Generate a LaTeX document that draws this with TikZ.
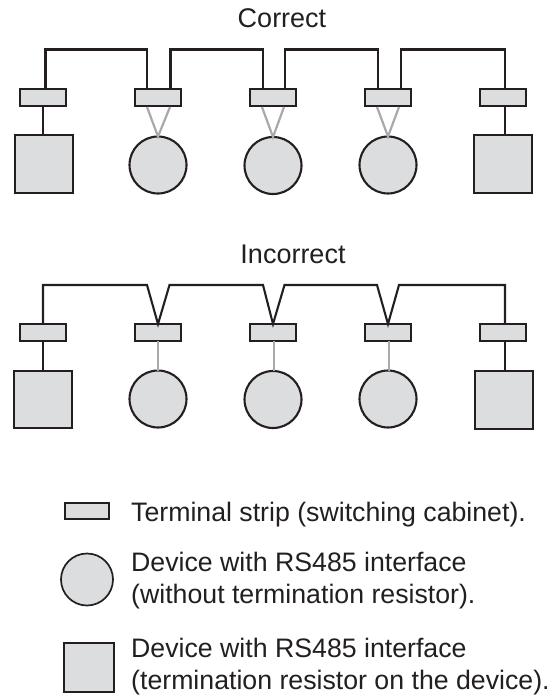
\documentclass[tikz,border=0pt]{standalone}
\usepackage{fontspec}
\setmainfont{Liberation Sans}
\usetikzlibrary{calc}
\definecolor{fillc}{HTML}{DCDDDE}
\definecolor{inkc}{HTML}{231F20}
\definecolor{greyc}{HTML}{A7A9AC}
\tikzset{
 x=1pt,y=-1pt,
 stripbox/.style={draw=inkc,fill=fillc,line width=2.1pt,minimum width=46pt,minimum height=17pt,inner sep=0pt,outer sep=0pt},
 devsq/.style={draw=inkc,fill=fillc,line width=2.1pt,minimum width=57.5pt,minimum height=57.5pt,inner sep=0pt,outer sep=0pt},
 devci/.style={circle,draw=inkc,fill=fillc,line width=2.1pt,minimum size=57pt,inner sep=0pt,outer sep=0pt},
 wire/.style={draw=inkc,line width=2.1pt,line join=miter},
 gwire/.style={draw=greyc,line width=2.2pt},
 lbl/.style={text=inkc,inner sep=0pt,font=\fontsize{26.7}{32}\selectfont,align=left},
 ttl/.style={text=inkc,inner sep=0pt,font=\fontsize{27}{32}\selectfont},
}
\begin{document}
\begin{tikzpicture}
\useasboundingbox (0,0) rectangle (555,699);
\fill[white] (0,0) rectangle (555,699);
% Correct
\node[ttl,anchor=base] (tc) at (282,27) {Correct};
\coordinate (topa) at (0,49.5);
\coordinate (topb) at (0,285);
\node[stripbox] (s1) at (43,97.5) {};
\node[stripbox] (s2) at (158,97.5) {};
\node[stripbox] (s3) at (273,97.5) {};
\node[stripbox] (s4) at (388,97.5) {};
\node[stripbox] (s5) at (503,97.5) {};
\node[devsq] (d1) at (44,164) {};
\node[devci] (d2) at (158,165) {};
\node[devci] (d3) at (273,165.5) {};
\node[devci] (d4) at (388,165) {};
\node[devsq] (d5) at (503,164) {};
\draw[wire] ([xshift=2.5pt]s1.north) -- ([xshift=2.5pt]s1.north |- topa) -- ([xshift=-11pt]s2.north |- topa) -- ([xshift=-11pt]s2.north);
\draw[wire] ([xshift=12.5pt]s2.north) -- ([xshift=12.5pt]s2.north |- topa) -- ([xshift=-10pt]s3.north |- topa) -- ([xshift=-10pt]s3.north);
\draw[wire] ([xshift=12pt]s3.north) -- ([xshift=12pt]s3.north |- topa) -- ([xshift=-10.3pt]s4.north |- topa) -- ([xshift=-10.3pt]s4.north);
\draw[wire] ([xshift=12.7pt]s4.north) -- ([xshift=12.7pt]s4.north |- topa) -- ([xshift=2pt]s5.north |- topa) -- ([xshift=2pt]s5.north);
\draw[wire] (s1.south) -- (s1.south |- d1.north);
\draw[wire] ([xshift=2pt]s5.south) -- ([xshift=2pt]s5.south |- d5.north);
\draw[gwire] ([xshift=-11pt,yshift=-1pt]s2.south) -- (d2.north) -- ([xshift=12pt,yshift=-1pt]s2.south);
\draw[gwire] ([xshift=-11pt,yshift=-1pt]s3.south) -- (d3.north) -- ([xshift=11pt,yshift=-1pt]s3.south);
\draw[gwire] ([xshift=-11pt,yshift=-1pt]s4.south) -- (d4.north) -- ([xshift=11pt,yshift=-1pt]s4.south);
% Incorrect
\node[ttl,anchor=base] (ti) at (293,263) {Incorrect};
\node[stripbox] (t1) at (43,332.5) {};
\node[stripbox] (t2) at (158,332.5) {};
\node[stripbox] (t3) at (273,332.5) {};
\node[stripbox] (t4) at (388,332.5) {};
\node[stripbox] (t5) at (503,332.5) {};
\node[devsq] (e1) at (43,399.5) {};
\node[devci] (e2) at (158,399) {};
\node[devci] (e3) at (273,399.5) {};
\node[devci] (e4) at (388,399) {};
\node[devsq] (e5) at (504,400) {};
\draw[wire] (t1.north) -- (t1.north |- topb) -- ([xshift=-11pt]t2.north |- topb) -- (t2.north) -- ([xshift=11.5pt]t2.north |- topb)
 -- ([xshift=-10pt]t3.north |- topb) -- (t3.north) -- ([xshift=11.5pt]t3.north |- topb)
 -- ([xshift=-11pt]t4.north |- topb) -- (t4.north) -- ([xshift=11pt]t4.north |- topb)
 -- ([xshift=2pt]t5.north |- topb) -- ([xshift=2pt]t5.north);
\draw[wire] (t1.south) -- (t1.south |- e1.north);
\draw[wire] ([xshift=2pt]t5.south) -- ([xshift=2pt]t5.south |- e5.north);
\draw[gwire] (t2.south) -- (t2.south |- e2.north);
\draw[gwire] ([xshift=1pt]t3.south) -- ([xshift=1pt]t3.south |- e3.north);
\draw[gwire] ([xshift=1pt]t4.south) -- ([xshift=1pt]t4.south |- e4.north);
% Legend
\node[stripbox,minimum width=44pt,minimum height=16pt,line width=1.7pt] (ls) at (87,511) {};
\node[devci,minimum size=52pt,line width=1.7pt] (lc) at (87,579.5) {};
\node[devsq,minimum width=49.5pt,minimum height=49.5pt,line width=1.7pt] (lq) at (89,667.5) {};
\node[lbl,anchor=base west] (l1) at (131,521.7) {Terminal strip (switching cabinet).};
\node[lbl,anchor=north west] (l2) at (131,552) {Device with RS485 interface\\(without termination resistor).};
\node[lbl,anchor=north west] (l3) at (131,638) {Device with RS485 interface\\(termination resistor on the device).};
\end{tikzpicture}
\end{document}
